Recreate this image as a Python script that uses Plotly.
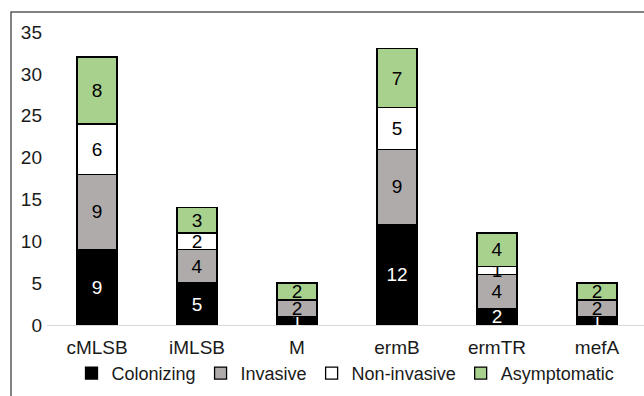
import plotly.graph_objects as go

categories = ["cMLSB", "iMLSB", "M", "ermB", "ermTR", "mefA"]
colonizing = [9, 5, 1, 12, 2, 1]
invasive = [9, 4, 2, 9, 4, 2]
non_invasive = [6, 2, 0, 5, 1, 0]
asymptomatic = [8, 3, 2, 7, 4, 2]
y_ticks = [0, 5, 10, 15, 20, 25, 30, 35]

series = [
    ("Colonizing", colonizing, "#000000", "#ffffff"),
    ("Invasive", invasive, "#AFABAB", "#000000"),
    ("Non-invasive", non_invasive, "#ffffff", "#000000"),
    ("Asymptomatic", asymptomatic, "#A9D18E", "#000000"),
]

FONT = "Liberation Sans, Arial, sans-serif"
fig = go.Figure()
for name, vals, color, tcolor in series:
    fig.add_trace(go.Bar(
        name=name, x=categories, y=vals,
        marker=dict(color=color, line=dict(color="#000000", width=1.3)),
        text=[str(v) if v else "" for v in vals],
        textposition="inside", insidetextanchor="middle", textangle=0,
        textfont=dict(color=tcolor, size=19, family=FONT),
        cliponaxis=False,
    ))

fig.update_layout(
    width=644, height=396,
    barmode="stack", bargap=0.6,
    margin=dict(l=47, r=0, t=32, b=71),
    paper_bgcolor="white", plot_bgcolor="white",
    font=dict(family=FONT, size=19, color="#1a1a1a"),
    uniformtext=dict(minsize=19, mode="show"),
    showlegend=True,
    legend=dict(orientation="h", x=0.5, xanchor="center", y=-0.165, yanchor="middle",
                font=dict(size=18), itemwidth=30, tracegroupgap=0,
                traceorder="normal"),
    xaxis=dict(range=[-0.5, 5.47], showline=False, ticks="", showgrid=False,
               tickfont=dict(size=19), ticklabelstandoff=9),
    yaxis=dict(range=[0, 35], tickvals=y_ticks, showgrid=False, zeroline=True,
               zerolinecolor="#d9d9d9", zerolinewidth=1.3, showline=False,
               tickfont=dict(size=19), ticklabelstandoff=4),
    shapes=[dict(type="rect", xref="paper", yref="paper",
                 x0=-0.0603, x1=1.2, y0=-0.5, y1=1.068,
                 line=dict(color="#595959", width=1.5), layer="above")],
)

fig.write_html("out.html", config={"displayModeBar": False},
               post_script="document.body.style.margin='0';document.body.style.overflow='hidden';")
